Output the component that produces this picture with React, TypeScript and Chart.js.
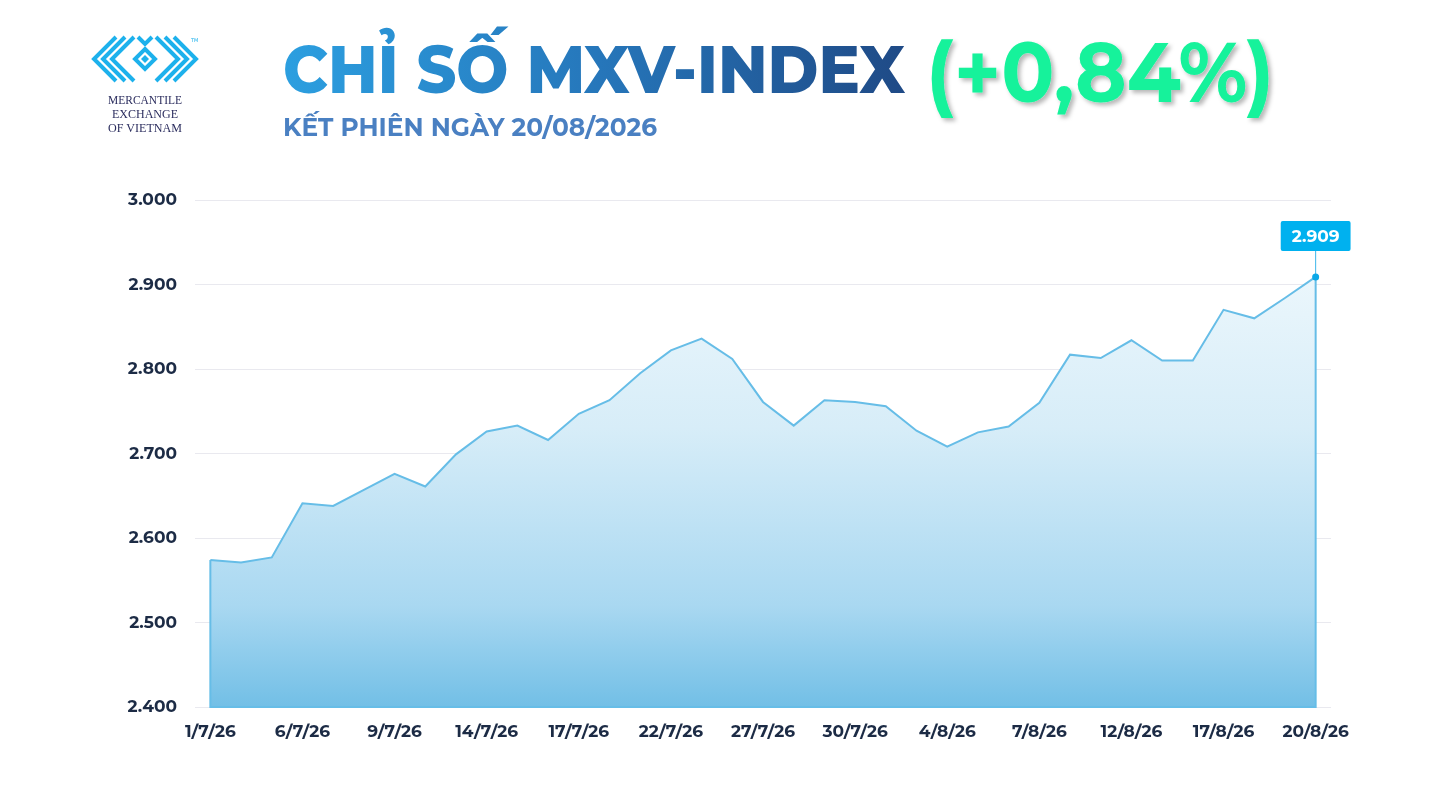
import React, { useEffect, useRef } from "react";
import { Chart, registerables } from "chart.js";

Chart.register(...registerables);

const dates: string[] = [
  "1/7/26", "2/7/26", "3/7/26", "6/7/26", "7/7/26", "8/7/26", "9/7/26", "10/7/26", "13/7/26",
  "14/7/26", "15/7/26", "16/7/26", "17/7/26", "20/7/26", "21/7/26", "22/7/26", "23/7/26", "24/7/26",
  "27/7/26", "28/7/26", "29/7/26", "30/7/26", "31/7/26", "3/8/26", "4/8/26", "5/8/26", "6/8/26",
  "7/8/26", "10/8/26", "11/8/26", "12/8/26", "13/8/26", "14/8/26", "17/8/26", "18/8/26", "19/8/26",
  "20/8/26",
];

const mxvIndex: number[] = [
  2574, 2571, 2577, 2641, 2638, 2657, 2676, 2661, 2699,
  2726, 2733, 2716, 2747, 2763, 2795, 2822, 2836, 2812,
  2761, 2733, 2763, 2761, 2756, 2727, 2708, 2725, 2732,
  2760, 2817, 2813, 2834, 2810, 2810, 2870, 2860, 2884,
  2909,
];

const yMin = 2400;
const yMax = 3000;
const yStep = 100;
const labelEvery = 3;

const titleMain = "CHỈ SỐ MXV-INDEX";
const titleChange = "(+0,84%)";
const subtitle = "KẾT PHIÊN NGÀY 20/08/2026";

const FONT = "Montserrat, 'Open Sans', 'Noto Sans', sans-serif";

const fmt = (v: number) => {
  const s = Math.round(v).toString();
  return s.replace(/\B(?=(\d{3})+(?!\d))/g, ".");
};

const edgePlugin = {
  id: "edgeAndLabel",
  afterDatasetsDraw(chart: any) {
    const meta = chart.getDatasetMeta(0);
    if (!meta || !meta.data.length) return;
    const ctx = chart.ctx as CanvasRenderingContext2D;
    const first = meta.data[0];
    const last = meta.data[meta.data.length - 1];
    const bottom = chart.scales.y.getPixelForValue(yMin);
    ctx.save();
    ctx.strokeStyle = "#66bde7";
    ctx.lineWidth = 2;
    ctx.beginPath();
    ctx.moveTo(first.x, first.y);
    ctx.lineTo(first.x, bottom);
    ctx.lineTo(last.x, bottom);
    ctx.lineTo(last.x, last.y);
    ctx.stroke();

    // annotation
    const text = fmt(mxvIndex[mxvIndex.length - 1]);
    ctx.font = `700 17px ${FONT}`;
    const tw = ctx.measureText(text).width;
    const bw = Math.max(68, tw + 22);
    const bh = 30;
    const bBottom = last.y - 26;
    const bTop = bBottom - bh;
    ctx.strokeStyle = "#3db6ea";
    ctx.lineWidth = 1;
    ctx.beginPath();
    ctx.moveTo(last.x, last.y);
    ctx.lineTo(last.x, bBottom);
    ctx.stroke();
    ctx.fillStyle = "#00b1ef";
    const bx = last.x - bw / 2;
    const r = 2;
    ctx.beginPath();
    ctx.moveTo(bx + r, bTop);
    ctx.lineTo(bx + bw - r, bTop);
    ctx.quadraticCurveTo(bx + bw, bTop, bx + bw, bTop + r);
    ctx.lineTo(bx + bw, bBottom - r);
    ctx.quadraticCurveTo(bx + bw, bBottom, bx + bw - r, bBottom);
    ctx.lineTo(bx + r, bBottom);
    ctx.quadraticCurveTo(bx, bBottom, bx, bBottom - r);
    ctx.lineTo(bx, bTop + r);
    ctx.quadraticCurveTo(bx, bTop, bx + r, bTop);
    ctx.fill();
    ctx.fillStyle = "#ffffff";
    ctx.textAlign = "center";
    ctx.textBaseline = "middle";
    ctx.fillText(text, last.x, (bTop + bBottom) / 2 + 1);

    ctx.fillStyle = "#0aa8e8";
    ctx.beginPath();
    ctx.arc(last.x, last.y, 3.5, 0, Math.PI * 2);
    ctx.fill();
    ctx.restore();
  },
};

function Logo() {
  const c = "#1db1ec";
  const left = [0, 1, 2].map((k) => {
    const ax = 94 + k * 9;
    return `${ax + 22},37 ${ax},59 ${ax + 22},81`;
  });
  const right = [0, 1, 2].map((k) => {
    const ax = 196 - k * 9;
    return `${ax - 22},37 ${ax},59 ${ax - 22},81`;
  });
  return (
    <svg
      width={130}
      height={110}
      viewBox="85 30 130 110"
      style={{ position: "absolute", left: 85, top: 30 }}
    >
      <g fill="none" stroke={c} strokeWidth={4} strokeLinejoin="miter" strokeLinecap="butt">
        {left.map((p, i) => (
          <polyline key={"l" + i} points={p} />
        ))}
        {right.map((p, i) => (
          <polyline key={"r" + i} points={p} />
        ))}
        <polyline points="138,37 145,44 152,37" />
        <polygon points="145,49 155,59 145,69 135,59" />
      </g>
      <polygon points="145,55 149,59 145,63 141,59" fill={c} />
      <text x={191} y={42} fontSize={5} fill={c} fontFamily="'DejaVu Sans', sans-serif">
        TM
      </text>
      <g fill="#2b2d5e" fontFamily="'Liberation Serif', 'DejaVu Serif', serif" fontSize={11.5}>
        <text x={108} y={104} textLength={74} lengthAdjust="spacingAndGlyphs">MERCANTILE</text>
        <text x={112} y={118} textLength={66} lengthAdjust="spacingAndGlyphs">EXCHANGE</text>
        <text x={108} y={132} textLength={74} lengthAdjust="spacingAndGlyphs">OF VIETNAM</text>
      </g>
    </svg>
  );
}

function Header() {
  return (
    <svg
      width={1429}
      height={160}
      style={{ position: "absolute", left: 0, top: 0, pointerEvents: "none" }}
    >
      <defs>
        <linearGradient id="tg" x1="283" y1="0" x2="905" y2="0" gradientUnits="userSpaceOnUse">
          <stop offset="0" stopColor="#2c9fe0" />
          <stop offset="0.5" stopColor="#2677bb" />
          <stop offset="1" stopColor="#1f4a86" />
        </linearGradient>
        <filter id="sh" x="-10%" y="-20%" width="130%" height="150%">
          <feDropShadow dx="3" dy="3" stdDeviation="2" floodColor="#000" floodOpacity="0.28" />
        </filter>
      </defs>
      <text
        x={283}
        y={93}
        fontFamily={FONT}
        fontWeight={800}
        fontSize={67}
        fill="url(#tg)"
        textLength={622}
        lengthAdjust="spacingAndGlyphs"
      >
        {titleMain}
      </text>
      <text
        x={926}
        y={102}
        fontFamily={FONT}
        fontWeight={700}
        fontSize={84}
        fill="#17f29b"
        textLength={348}
        lengthAdjust="spacingAndGlyphs"
        filter="url(#sh)"
      >
        {titleChange}
      </text>
      <text
        x={283}
        y={136}
        fontFamily={FONT}
        fontWeight={700}
        fontSize={25}
        fill="#4a80c2"
        textLength={374}
        lengthAdjust="spacingAndGlyphs"
      >
        {subtitle}
      </text>
    </svg>
  );
}

export default function App() {
  const ref = useRef<HTMLCanvasElement | null>(null);

  useEffect(() => {
    if (!ref.current) return;
    const chart = new Chart(ref.current, {
      type: "line",
      data: {
        labels: dates,
        datasets: [
          {
            data: mxvIndex,
            borderColor: "#66bde7",
            borderWidth: 2,
            tension: 0,
            pointRadius: 0,
            pointHoverRadius: 0,
            fill: "start",
            backgroundColor: (context: any) => {
              const ch = context.chart;
              const area = ch.chartArea;
              if (!area) return "rgba(120,192,232,0.5)";
              const g = ch.ctx.createLinearGradient(0, area.top, 0, area.bottom);
              g.addColorStop(0, "#f5fbfe");
              g.addColorStop(0.45, "#d7edf8");
              g.addColorStop(0.8, "#a9d8f1");
              g.addColorStop(1, "#72bfe6");
              return g;
            },
          },
        ],
      },
      options: {
        responsive: false,
        animation: false,
        devicePixelRatio: 1,
        layout: { padding: { top: 200, right: 98, bottom: 0, left: 0 } },
        plugins: {
          legend: { display: false },
          tooltip: { enabled: false },
          title: { display: false },
        },
        scales: {
          x: {
            type: "category",
            offset: true,
            grid: { display: false },
            border: { display: false },
            ticks: {
              autoSkip: false,
              maxRotation: 0,
              minRotation: 0,
              padding: 7,
              color: "#1c2b45",
              font: { family: FONT, size: 17, weight: "bold" },
              callback: (_v: any, i: number) => (i % labelEvery === 0 ? dates[i] : ""),
            },
            afterFit: (scale: any) => {
              scale.height = 97;
            },
          },
          y: {
            min: yMin,
            max: yMax,
            grid: { color: "#e9e9ef", lineWidth: 1, drawTicks: false },
            border: { display: false },
            ticks: {
              stepSize: yStep,
              padding: 18,
              color: "#1c2b45",
              font: { family: FONT, size: 17, weight: "bold" },
              callback: (v: any) => fmt(Number(v)),
            },
            afterFit: (scale: any) => {
              scale.width = 195;
            },
          },
        },
      },
      plugins: [edgePlugin],
    });
    return () => chart.destroy();
  }, []);

  return (
    <div
      style={{
        position: "absolute",
        left: 0,
        top: 0,
        width: 1429,
        height: 804,
        background: "#ffffff",
        overflow: "hidden",
      }}
    >
      <canvas
        ref={ref}
        width={1429}
        height={804}
        style={{ position: "absolute", left: 0, top: 0, width: 1429, height: 804 }}
      />
      <Header />
      <Logo />
    </div>
  );
}
